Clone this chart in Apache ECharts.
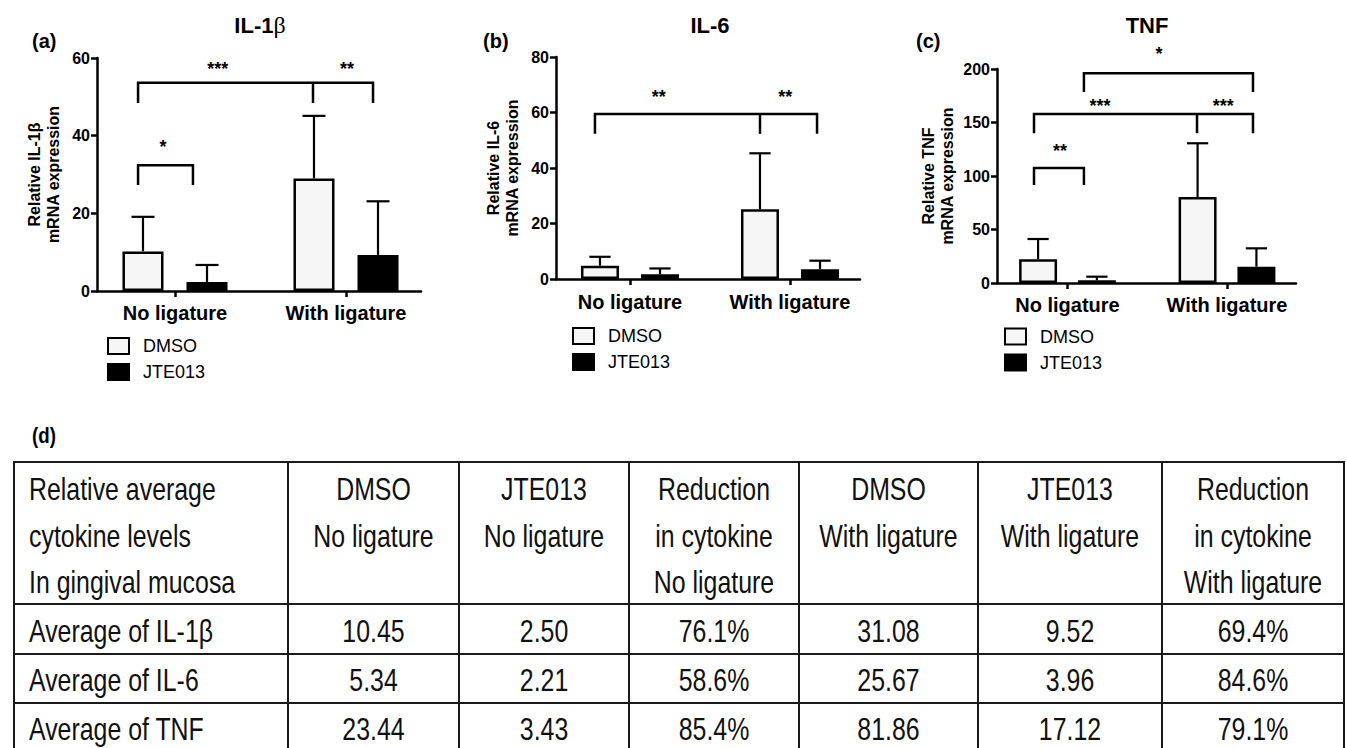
<!DOCTYPE html>
<html><head><meta charset="utf-8">
<script src="https://cdn.jsdelivr.net/npm/echarts@6/dist/echarts.min.js"></script>
<style>html,body{margin:0;padding:0;background:#fff}#c{width:1347px;height:748px}</style>
</head><body><div id="c"></div>
<script>
// ---------- DATA ----------
const categories = ['No ligature', 'With ligature'];
const seriesNames = ['DMSO', 'JTE013'];

const il1bDmso = [10.2, 29.0];
const il1bDmsoUpper = [19.1, 45.1];
const il1bJte = [2.3, 9.3];
const il1bJteUpper = [6.7, 23.1];
const il1bTicks = [0, 20, 40, 60];

const il6Dmso = [4.8, 25.1];
const il6DmsoUpper = [8.0, 45.3];
const il6Jte = [1.7, 3.5];
const il6JteUpper = [3.8, 6.6];
const il6Ticks = [0, 20, 40, 60, 80];

const tnfDmso = [22.1, 80.4];
const tnfDmsoUpper = [41.1, 130.6];
const tnfJte = [2.5, 15.3];
const tnfJteUpper = [5.9, 32.4];
const tnfTicks = [0, 50, 100, 150, 200];

// significance brackets (x in category units, y in data units)
const il1bBrackets = [
  { legs: [-0.216, 0.105], top: 32.4, foot: 27.3 },
  { legs: [-0.216, 0.807, 1.158], top: 53.6, foot: 48.4 }
];
const il1bStars = [
  { x: -0.07, y: 38.1, text: '*' },
  { x: 0.25, y: 58.2, text: '***' },
  { x: 1.006, y: 58.2, text: '**' }
];
const il6Brackets = [
  { legs: [-0.219, 0.8125, 1.169], top: 59.5, foot: 52.3 }
];
const il6Stars = [
  { x: 0.18, y: 67, text: '**' },
  { x: 0.97, y: 67, text: '**' }
];
const tnfBrackets = [
  { legs: [-0.21, 0.103], top: 107.5, foot: 91.6 },
  { legs: [-0.21, 0.812, 1.163], top: 158, foot: 140 },
  { legs: [0.103, 1.163], top: 196, foot: 178.5 }
];
const tnfStars = [
  { x: -0.047, y: 127, text: '**' },
  { x: 0.204, y: 169, text: '***' },
  { x: 0.976, y: 169, text: '***' },
  { x: 0.574, y: 217.8, text: '*' }
];

// table (d)
const tableHead = [
  ['Relative average', 'cytokine levels', 'In gingival mucosa'],
  ['DMSO', 'No ligature'],
  ['JTE013', 'No ligature'],
  ['Reduction', 'in cytokine', 'No ligature'],
  ['DMSO', 'With ligature'],
  ['JTE013', 'With ligature'],
  ['Reduction', 'in cytokine', 'With ligature']
];
const rowLabels = ['Average of IL-1β', 'Average of IL-6', 'Average of TNF'];
const avgDmsoNo = [10.45, 5.34, 23.44];
const avgJteNo = [2.50, 2.21, 3.43];
const reductionNo = [76.1, 58.6, 85.4];
const avgDmsoWith = [31.08, 25.67, 81.86];
const avgJteWith = [9.52, 3.96, 17.12];
const reductionWith = [69.4, 84.6, 79.1];

// ---------- LAYOUT / STYLE ----------
const FONT = 'Liberation Sans, Arial, sans-serif';
const panels = [
  { title: 'IL-1', titleGreek: 'β', tag: '(a)', yName: 'Relative IL-1β\nmRNA expression',
    dmso: il1bDmso, dmsoUp: il1bDmsoUpper, jte: il1bJte, jteUp: il1bJteUpper, ticks: il1bTicks,
    brackets: il1bBrackets, stars: il1bStars,
    grid: { left: 97, top: 58, width: 324, height: 233 }, xr: [-0.4561, 1.4386],
    barW: 0.24, gap: 0.56, nameGap: 34, lblMargin: 12,
    legend: { left: 107, top: 337 }, titlePos: [260, 25], tagPos: [32, 41] },
  { title: 'IL-6', titleGreek: '', tag: '(b)', yName: 'Relative IL-6\nmRNA expression',
    dmso: il6Dmso, dmsoUp: il6DmsoUpper, jte: il6Jte, jteUp: il6JteUpper, ticks: il6Ticks,
    brackets: il6Brackets, stars: il6Stars,
    grid: { left: 556, top: 57, width: 304, height: 222 }, xr: [-0.4625, 1.4375],
    barW: 0.2375, gap: 0.58, nameGap: 34.5, lblMargin: 13,
    legend: { left: 572, top: 327 }, titlePos: [710, 25], tagPos: [483, 41] },
  { title: 'TNF', titleGreek: '', tag: '(c)', yName: 'Relative TNF\nmRNA expression',
    dmso: tnfDmso, dmsoUp: tnfDmsoUpper, jte: tnfJte, jteUp: tnfJteUpper, ticks: tnfTicks,
    brackets: tnfBrackets, stars: tnfStars,
    grid: { left: 997, top: 69, width: 299, height: 214 }, xr: [-0.442, 1.4326],
    barW: 0.238, gap: 0.55, nameGap: 40, lblMargin: 12,
    legend: { left: 1004, top: 327.5 }, titlePos: [1147, 25], tagPos: [916, 41] }
];
const fills = ['#f6f6f6', '#000000'];

const grids = [], xAxes = [], yAxes = [], legends = [], series = [], graphics = [];

panels.forEach((p, pi) => {
  grids.push(Object.assign({ containLabel: false }, p.grid));
  xAxes.push({
    type: 'value', gridIndex: pi, min: p.xr[0], max: p.xr[1],
    axisLine: { show: true, onZero: false, lineStyle: { color: '#000', width: 2.5 } },
    axisTick: { show: true, customValues: [0, 1], length: 6, lineStyle: { color: '#000', width: 2.5 } },
    axisLabel: { show: true, customValues: [0, 1], formatter: v => categories[Math.round(v)] || '',
      color: '#000', fontFamily: FONT, fontWeight: 'bold', fontSize: 20, margin: p.lblMargin },
    splitLine: { show: false }
  });
  yAxes.push({
    type: 'value', gridIndex: pi, min: p.ticks[0], max: p.ticks[p.ticks.length - 1],
    interval: p.ticks[1] - p.ticks[0],
    axisLine: { show: true, onZero: false, lineStyle: { color: '#000', width: 2.5 } },
    axisTick: { show: true, length: 6, lineStyle: { color: '#000', width: 2.5 } },
    axisLabel: { color: '#000', fontFamily: FONT, fontWeight: 'bold', fontSize: 16, margin: 7 },
    splitLine: { show: false },
    name: p.yName, nameLocation: 'middle', nameGap: p.nameGap,
    nameTextStyle: { color: '#000', fontFamily: FONT, fontWeight: 'bold', fontSize: 16, lineHeight: 19 }
  });
  legends.push({
    data: seriesNames, orient: 'vertical', left: p.legend.left, top: p.legend.top,
    icon: 'rect', itemWidth: 21, itemHeight: 16, itemGap: 8, selectedMode: false, padding: 0,
    textStyle: { color: '#000', fontFamily: FONT, fontSize: 18, padding: [0, 0, 0, 9] }
  });
  const groups = [[p.dmso, p.dmsoUp], [p.jte, p.jteUp]];
  groups.forEach((g, si) => {
    series.push({
      type: 'bar', name: seriesNames[si], xAxisIndex: pi, yAxisIndex: pi,
      barWidth: (p.barW * 100) + '%', barGap: (p.gap * 100) + '%',
      itemStyle: { color: fills[si], borderColor: '#000', borderWidth: 2.5 },
      data: categories.map((c, i) => [i, g[0][i]]), z: 2
    });
  });
  groups.forEach((g, si) => {
    const off = (si === 0 ? -1 : 1) * p.barW * (1 + p.gap) / 2;
    series.push({
      type: 'custom', name: 'err' + pi + si, xAxisIndex: pi, yAxisIndex: pi, z: 3, silent: true,
      data: categories.map((c, i) => [i, g[0][i], g[1][i]]),
      renderItem: (params, api) => {
        const x = api.value(0), m = api.value(1), u = api.value(2);
        const p0 = api.coord([x, m]), p1 = api.coord([x, u]);
        const band = api.size([1, 0])[0];
        const cx = p0[0] + off * band;
        const half = 0.56 * p.barW * band / 2;
        return { type: 'group', children: [
          { type: 'line', shape: { x1: cx, y1: p0[1], x2: cx, y2: p1[1] }, style: { stroke: '#000', lineWidth: 2.2 } },
          { type: 'line', shape: { x1: cx - half, y1: p1[1], x2: cx + half, y2: p1[1] }, style: { stroke: '#000', lineWidth: 2.2 } }
        ] };
      }
    });
  });
  series.push({
    type: 'custom', name: 'brackets' + pi, xAxisIndex: pi, yAxisIndex: pi, z: 4, silent: true,
    data: p.brackets.map(b => [b.legs[0], b.top]),
    renderItem: (params, api) => {
      const b = p.brackets[params.dataIndex];
      const yT = api.coord([0, b.top])[1], yF = api.coord([0, b.foot])[1];
      const xs = b.legs.map(v => api.coord([v, 0])[0]);
      const a = xs[0], z = xs[xs.length - 1];
      const children = [{ type: 'polyline', shape: { points: [[a, yF], [a, yT], [z, yT], [z, yF]] },
        style: { stroke: '#000', fill: null, lineWidth: 2.5 } }];
      xs.slice(1, -1).forEach(x => children.push({ type: 'line', shape: { x1: x, y1: yT, x2: x, y2: yF },
        style: { stroke: '#000', lineWidth: 2.5 } }));
      return { type: 'group', children };
    }
  });
  series.push({
    type: 'custom', name: 'stars' + pi, xAxisIndex: pi, yAxisIndex: pi, z: 4, silent: true,
    data: p.stars.map(s => [s.x, s.y]),
    renderItem: (params, api) => {
      const s = p.stars[params.dataIndex];
      const pt = api.coord([s.x, s.y]);
      return { type: 'text', x: pt[0], y: pt[1] + 4,
        style: { text: s.text, font: 'bold 18px ' + FONT, fill: '#000',
          textAlign: 'center', textVerticalAlign: 'middle', align: 'center', verticalAlign: 'middle' } };
    }
  });
  // panel title and tag
  graphics.push({ type: 'text', x: p.titlePos[0], y: p.titlePos[1], silent: true,
    style: { text: p.titleGreek ? '{a|' + p.title + '}{b|' + p.titleGreek + '}' : '{a|' + p.title + '}',
      rich: { a: { font: 'bold 22px ' + FONT, fill: '#000' }, b: { font: '24px Liberation Serif, serif', fill: '#000' } },
      fill: '#000', textAlign: 'center', textVerticalAlign: 'middle', align: 'center', verticalAlign: 'middle' } });
  graphics.push({ type: 'text', x: p.tagPos[0], y: p.tagPos[1], silent: true,
    style: { text: p.tag, font: 'bold 20px ' + FONT, fill: '#000',
      textAlign: 'left', textVerticalAlign: 'middle', align: 'left', verticalAlign: 'middle' } });
});

// ---------- TABLE ----------
const colEdges = [14, 288, 459, 629, 799, 978, 1162, 1344];
const rowEdges = [462, 604, 654, 703, 752];
const headFirst = 489, headPitch = 46.5, cellPad = 15, SX = 0.83;
const TFONT = '30px ' + FONT;
const tline = (x1, y1, x2, y2) => ({ type: 'line', silent: true, shape: { x1, y1, x2, y2 }, style: { stroke: '#1a1a1a', lineWidth: 2 } });
const ttext = (x, y, text, align) => ({ type: 'text', x, y, scaleX: SX, scaleY: 1.04, silent: true,
  style: { text, font: TFONT, fill: '#111', textAlign: align, textVerticalAlign: 'middle', align, verticalAlign: 'middle' } });

rowEdges.forEach(y => graphics.push(tline(colEdges[0] - 1, y, colEdges[colEdges.length - 1] + 1, y)));
colEdges.forEach(x => graphics.push(tline(x, rowEdges[0], x, rowEdges[rowEdges.length - 1])));

tableHead.forEach((lines, ci) => {
  const x = ci === 0 ? colEdges[0] + cellPad : (colEdges[ci] + colEdges[ci + 1]) / 2;
  lines.forEach((t, li) => graphics.push(ttext(x, headFirst + li * headPitch, t, ci === 0 ? 'left' : 'center')));
});
rowLabels.forEach((lab, r) => {
  const cells = [lab, avgDmsoNo[r].toFixed(2), avgJteNo[r].toFixed(2), reductionNo[r].toFixed(1) + '%',
    avgDmsoWith[r].toFixed(2), avgJteWith[r].toFixed(2), reductionWith[r].toFixed(1) + '%'];
  const y = (rowEdges[r + 1] + rowEdges[r + 2]) / 2 + 1.5;
  cells.forEach((t, ci) => {
    const x = ci === 0 ? colEdges[0] + cellPad : (colEdges[ci] + colEdges[ci + 1]) / 2;
    graphics.push(ttext(x, y, t, ci === 0 ? 'left' : 'center'));
  });
});
graphics.push({ type: 'text', x: 32, y: 435, scaleX: 0.85, silent: true,
  style: { text: '(d)', font: 'bold 22px ' + FONT, fill: '#000',
    textAlign: 'left', textVerticalAlign: 'middle', align: 'left', verticalAlign: 'middle' } });

const chart = echarts.init(document.getElementById('c'), null, { renderer: 'svg' });
chart.setOption({
  animation: false, backgroundColor: '#fff',
  grid: grids, xAxis: xAxes, yAxis: yAxes, legend: legends, series, graphic: graphics
});
</script></body></html>
